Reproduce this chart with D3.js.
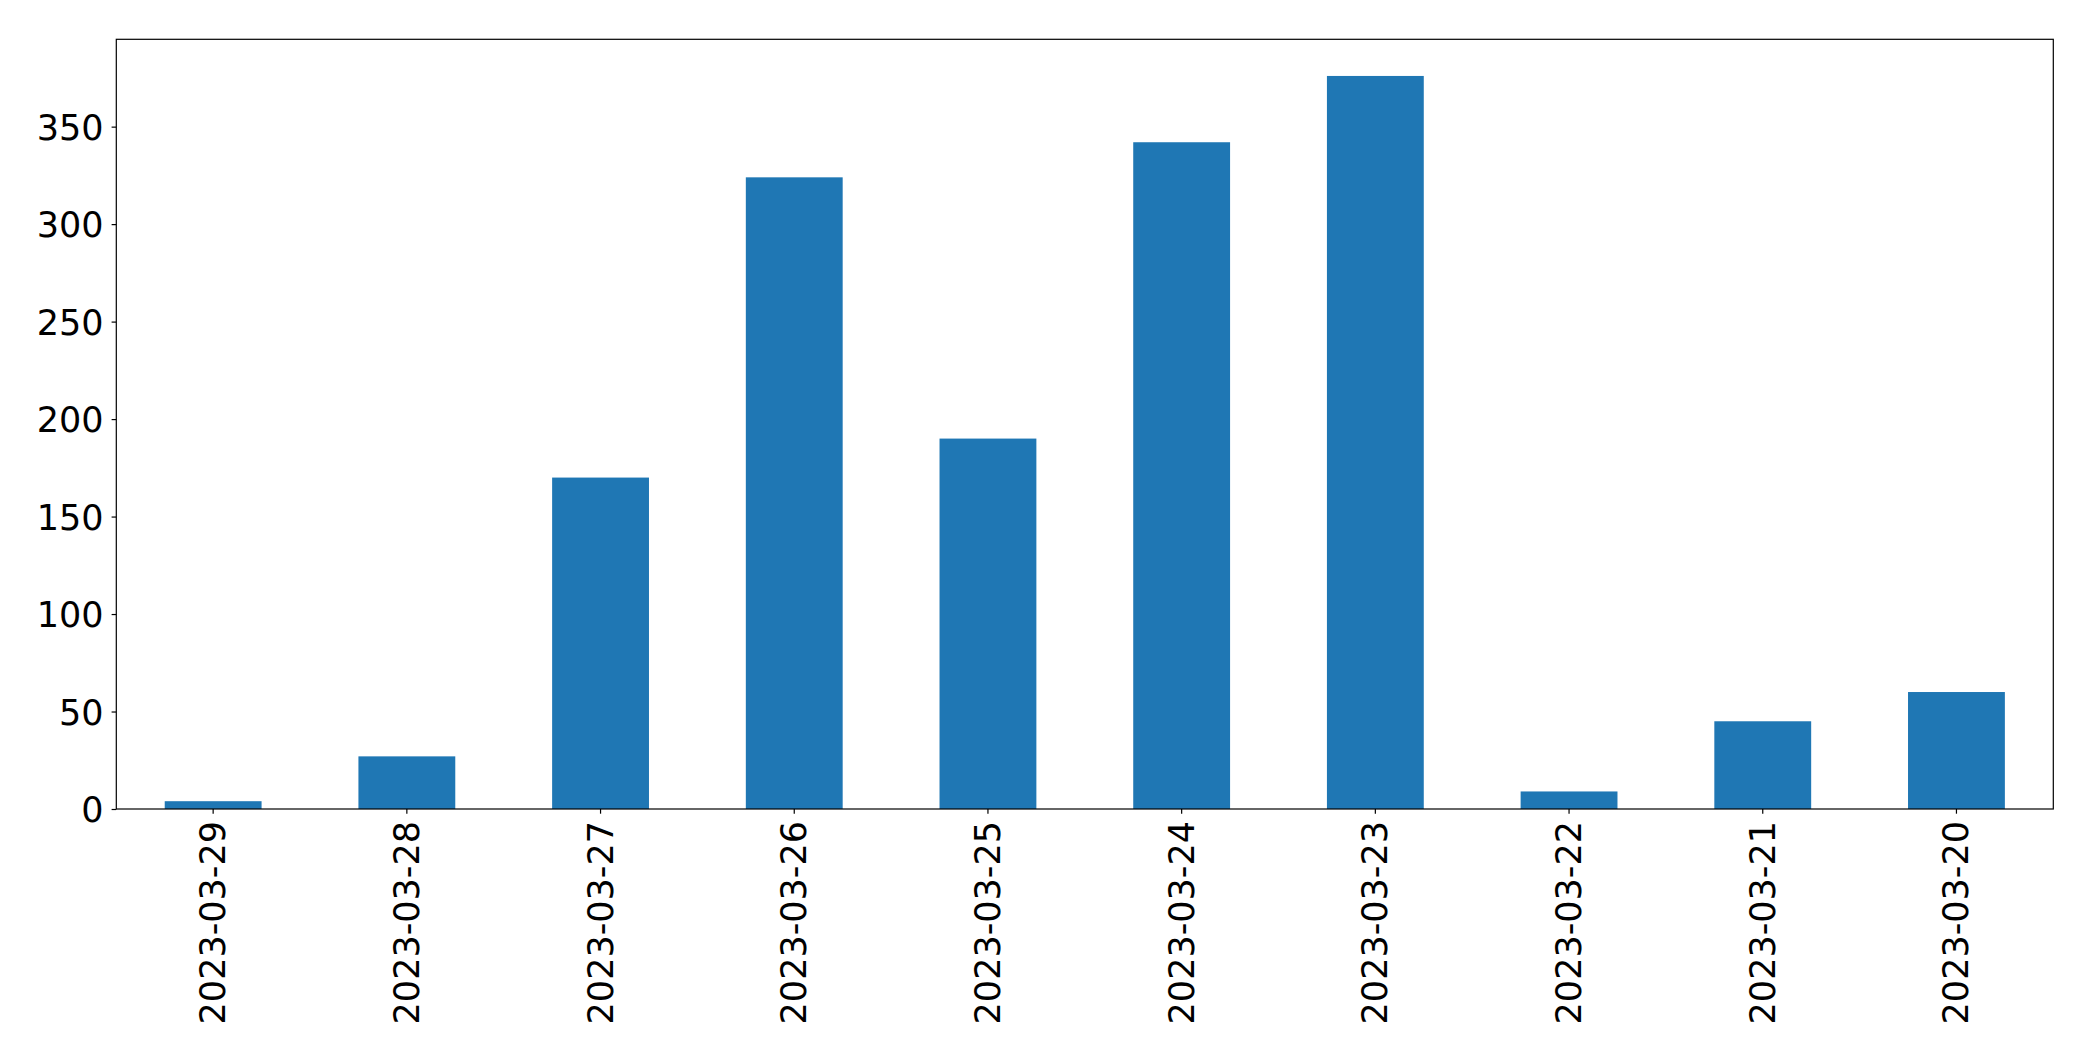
<!DOCTYPE html>
<html>
<head>
<meta charset="utf-8">
<script src="https://cdn.jsdelivr.net/npm/d3@7"></script>
<style>
  html, body { margin: 0; padding: 0; background: #fff; }
  svg { display: block; }
  text { font-family: "DejaVu Sans", sans-serif; }
</style>
</head>
<body>
<script>
const categories = ["2023-03-29","2023-03-28","2023-03-27","2023-03-26","2023-03-25","2023-03-24","2023-03-23","2023-03-22","2023-03-21","2023-03-20"];
const values = [4, 27, 170, 324, 190, 342, 376, 9, 45, 60];
const yTicks = [0, 50, 100, 150, 200, 250, 300, 350];

const W = 2093, H = 1061;
const m = { left: 116.3, right: W - 2053.3, top: 39.3, bottom: H - 809 };
const svg = d3.select("body").append("svg").attr("width", W).attr("height", H);

const x = d3.scaleBand().domain(categories)
  .range([m.left, W - m.right]).paddingInner(0.5).paddingOuter(0.25);
const yMax = d3.max(values) * 1.05;
const y = d3.scaleLinear().domain([0, yMax]).range([H - m.bottom, m.top]);

svg.append("g").selectAll("rect").data(values).join("rect")
  .attr("x", (d, i) => x(categories[i]))
  .attr("width", x.bandwidth())
  .attr("y", d => y(d))
  .attr("height", d => y(0) - y(d))
  .attr("fill", "#1f77b4");

const yAxis = svg.append("g").attr("transform", `translate(${m.left},0)`)
  .call(d3.axisLeft(y).tickValues(yTicks).tickSize(4.7).tickPadding(8).tickSizeOuter(0));
yAxis.select(".domain").remove();
yAxis.selectAll("text").style("font-size", "35px").attr("fill", "#000").attr("dy", "0.36em");
yAxis.selectAll("line").attr("stroke", "#000").attr("stroke-width", 1.2);

const xAxis = svg.append("g").attr("transform", `translate(0,${H - m.bottom})`)
  .call(d3.axisBottom(x).tickSize(4.7).tickSizeOuter(0));
xAxis.select(".domain").remove();
xAxis.selectAll("line").attr("stroke", "#000").attr("stroke-width", 1.2);
xAxis.selectAll("text")
  .style("font-size", "35px").attr("fill", "#000")
  .attr("text-anchor", "end")
  .attr("dy", null)
  .attr("dominant-baseline", "central")
  .attr("transform", "translate(0,12) rotate(-90)")
  .attr("x", 0).attr("y", 0);

svg.append("rect")
  .attr("x", m.left).attr("y", m.top)
  .attr("width", W - m.right - m.left).attr("height", H - m.bottom - m.top)
  .attr("fill", "none").attr("stroke", "#000").attr("stroke-width", 1.2);
</script>
</body>
</html>
